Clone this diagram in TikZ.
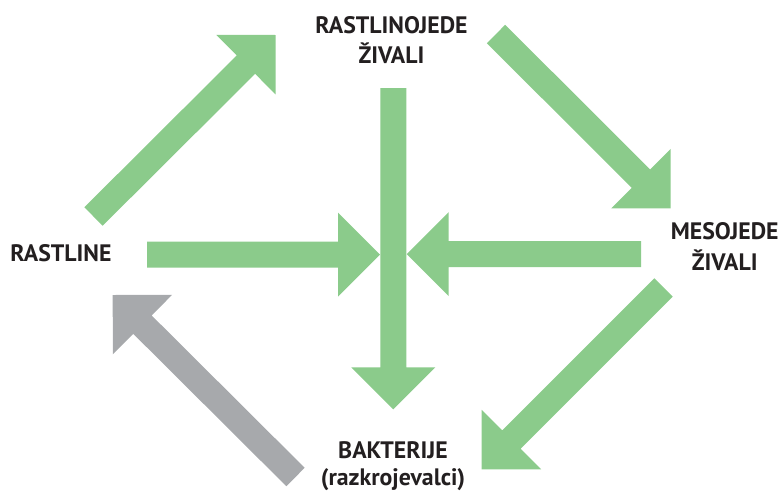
\documentclass[tikz,border=0pt]{standalone}
\usepackage{fontspec}
\setmainfont{PT Sans}
\usetikzlibrary{calc}
\definecolor{arrgreen}{RGB}{139,203,139}
\definecolor{arrgray}{RGB}{167,169,172}
\definecolor{txt}{RGB}{35,31,32}
\newcommand\blockarrow[3]{%
  \coordinate (#2h) at ($(#2)!42pt!(#1)$);
  \fill[#3] ($(#1)!13pt!90:(#2)$) -- ($(#2h)!13pt!90:(#2)$) -- ($(#2h)!42pt!90:(#2)$)
    -- (#2) -- ($(#2h)!42pt!-90:(#2)$) -- ($(#2h)!13pt!-90:(#2)$)
    -- ($(#1)!13pt!-90:(#2)$) -- cycle;}
\begin{document}
\begin{tikzpicture}[x=1pt,y=-1pt,
  lbl/.style={font=\bfseries\fontsize{23.8}{30}\selectfont, text=txt, align=center, inner sep=0pt, anchor=base},
  green arrow/.style={fill=arrgreen},
  gray arrow/.style={fill=arrgray}]
\useasboundingbox (0,0) rectangle (783,490);
% labels (anchor = baseline of the last line)
\node[lbl] (herb) at (391.5,63) {RASTLINOJEDE\\ŽIVALI};
\node[lbl] (plants) at (61,261.7) {RASTLINE};
\node[lbl, font=\bfseries\fontsize{23.8}{31.4}\selectfont] (carn) at (724.7,270.7) {MESOJEDE\\ŽIVALI};
\node[lbl, font=\bfseries\fontsize{23.8}{27}\selectfont] (bact) at (393,485) {BAKTERIJE\\(razkrojevalci)};
% arrow end points
\coordinate (a1t) at (93.5,216.5);  \coordinate (a1p) at (275.7,35);
\coordinate (a2t) at (496,34);      \coordinate (a2p) at (670.7,208.3);
\coordinate (a3t) at (663.5,287.5); \coordinate (a3p) at (481.7,469.3);
\coordinate (a4t) at (295.5,477);   \coordinate (a4p) at (112.7,295);
\coordinate (a5t) at (147,254.7);   \coordinate (a5p) at (380,254.7);
\coordinate (a6t) at (641,254.2);   \coordinate (a6p) at (406.7,254.2);
\coordinate (a7t) at (393.3,88);    \coordinate (a7p) at (393.3,409.3);
\blockarrow{a1t}{a1p}{green arrow}
\blockarrow{a2t}{a2p}{green arrow}
\blockarrow{a3t}{a3p}{green arrow}
\blockarrow{a4t}{a4p}{gray arrow}
\blockarrow{a7t}{a7p}{green arrow}
\blockarrow{a5t}{a5p}{green arrow}
\blockarrow{a6t}{a6p}{green arrow}
\end{tikzpicture}
\end{document}
